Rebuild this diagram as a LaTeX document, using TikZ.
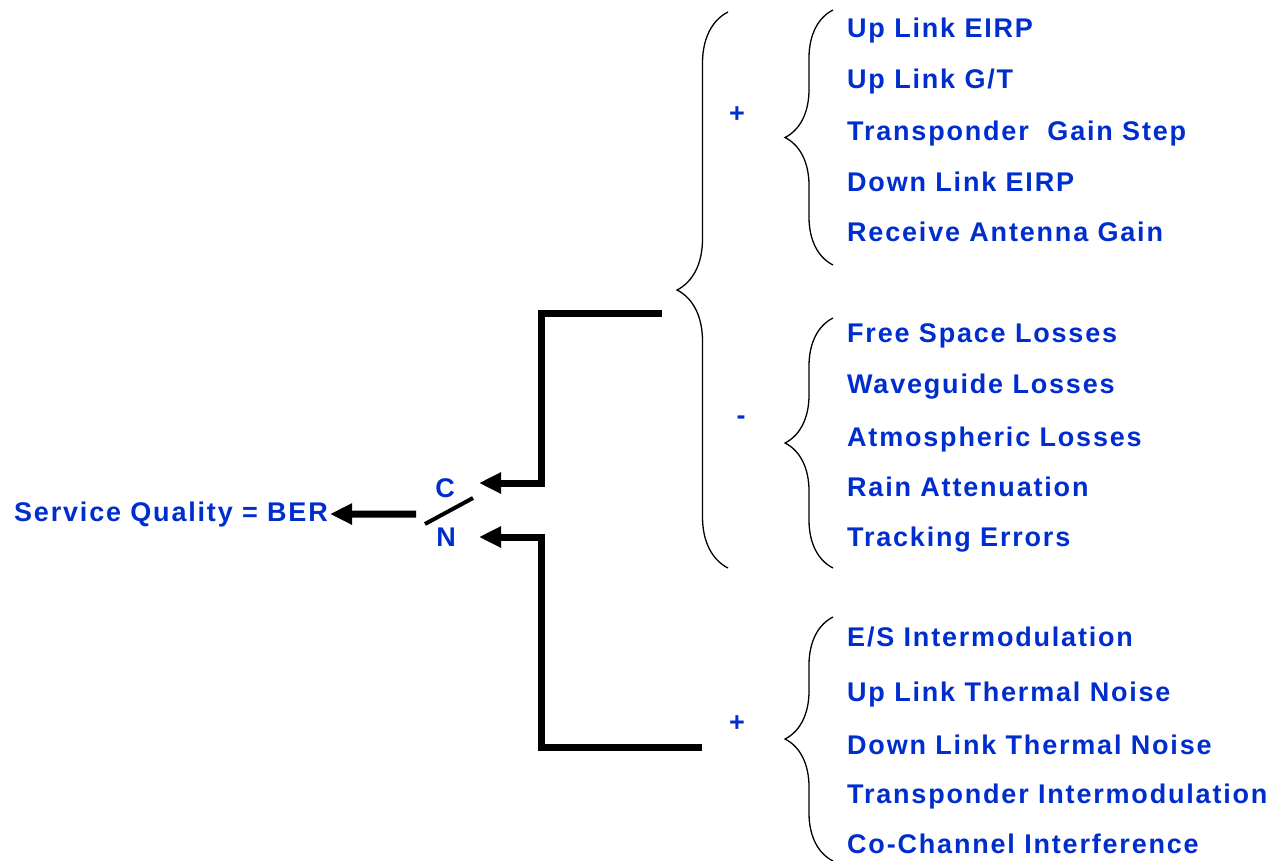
\documentclass[tikz,border=0pt]{standalone}
\usepackage{fontspec}
\setmainfont{Liberation Sans}[LetterSpace=6.7]
\usepackage{tikz}
\usetikzlibrary{positioning, calc, arrows.meta, decorations.pathreplacing}
\definecolor{itemblue}{RGB}{0,45,205}

\tikzset{
  item/.style={anchor=base west, inner sep=0pt, text=itemblue,
    font=\bfseries\fontsize{27}{32}\selectfont},
  sign/.style={inner sep=0pt, text=itemblue,
    font=\bfseries\fontsize{27}{32}\selectfont},
  thickline/.style={line width=7pt, -{Triangle[length=22pt,width=20pt]}},
  bigbrace/.style={line width=1.3pt, decorate, decoration={brace, amplitude=51pt}},
  listbrace/.style={line width=1.3pt, decorate, decoration={brace, amplitude=48pt}}
}

\begin{document}
\begin{tikzpicture}[x=1pt, y=-1pt]
      \useasboundingbox (0,0) rectangle (1272,861);
      % result and ratio
      \node[item] (ber) at (14,521) {Service Quality = BER};
      \node[sign] (c) at (445,488) {C};
      \node[sign] (n) at (446,537) {N};
      \draw[line width=4pt] (425,524)--(473,498);
      % connectors
      \coordinate (ctip) at (479,483);
      \coordinate (ntip) at (479,537);
      \coordinate (cend) at (662,313);
      \coordinate (nend) at (702,747);
      \coordinate (bertail) at (416,514);
      \draw[thickline] (cend)--++(-121,0) |- (ctip);
      \draw[thickline] (nend)--++(-161,0) |- (ntip);
      \draw[thickline] (bertail)--([xshift=2pt]ber.east);
      % braces
      \draw[bigbrace] (728,568)--(728,12);
      \draw[listbrace] (833,265)--(833,10);
      \draw[listbrace] (833,568)--(833,318);
      \draw[listbrace] (833,861)--(833,617);
      \node[sign] (plustop) at (737,115) {+};
      \node[sign] (minus) at (741,420) {-};
      \node[sign] (plusbot) at (737,724) {+};
      % items
      \foreach \name/\y/\txt in {
          upeirp/38/{Up Link EIRP},
          upgt/89/{Up Link G/T},
          gainstep/141/{Transponder\ \ Gain Step},
          downeirp/192/{Down Link EIRP},
          rxgain/242/{Receive Antenna Gain},
          freespace/342/{Free Space Losses},
          waveguide/393/{Waveguide Losses},
          atmos/446/{Atmospheric Losses},
          rain/496/{Rain Attenuation},
          tracking/546/{Tracking Errors},
          esim/646/{E/S Intermodulation},
          upnoise/701/{Up Link Thermal Noise},
          downnoise/754/{Down Link Thermal Noise},
          trim/803/{Transponder Intermodulation},
          cochannel/853/{Co-Channel Interference}}
        \node[item] (\name) at (847,\y) {\txt};
    \end{tikzpicture}
\end{document}
